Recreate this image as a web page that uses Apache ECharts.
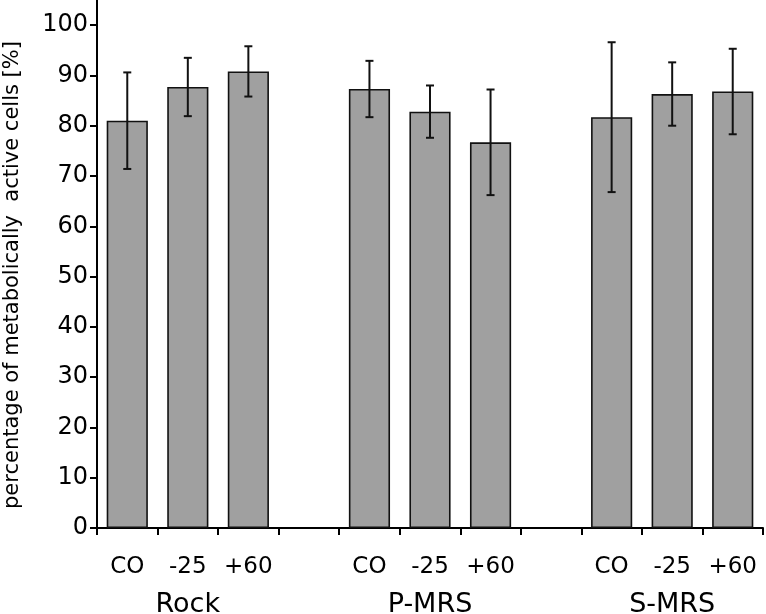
<!DOCTYPE html>
<html><head><meta charset="utf-8">
<script src="https://cdn.jsdelivr.net/npm/echarts@6/dist/echarts.min.js"></script>
<style>html,body{margin:0;padding:0;background:#fff}#c{width:766px;height:614px}</style>
</head><body><div id="c"></div>
<script>
var categories = ['CO','-25','+60','','CO','-25','+60','','CO','-25','+60'];
var groupLabels = ['','Rock','','','','P-MRS','','','','S-MRS',''];
var means = [81.0, 87.7, 90.8, null, 87.3, 82.8, 76.7, null, 81.7, 86.3, 86.8];
var errors = [9.6, 5.8, 5.0, null, 5.6, 5.2, 10.5, null, 14.9, 6.3, 8.5];
var yTicks = [0,10,20,30,40,50,60,70,80,90,100];
var yTitle = 'percentage of metabolically  active cells [%]';

var font = '"DejaVu Sans", sans-serif';
var chart = echarts.init(document.getElementById('c'), null, {renderer:'canvas'});
var errData = means.map(function(m,i){ return m==null ? null : [i, m - errors[i], m + errors[i]]; }).filter(function(d){return d;});
chart.setOption({
  animation:false,
  grid:{left:97, right:3, top:0, bottom:86, containLabel:false, outerBoundsMode:'none'},
  xAxis:[{
    type:'category', data:categories, boundaryGap:true,
    axisLine:{lineStyle:{color:'#000', width:2}},
    axisTick:{show:true, alignWithLabel:false, length:7, lineStyle:{color:'#000', width:2}},
    axisLabel:{color:'#000', fontSize:23, fontFamily:font, margin:28, interval:0}
  },{
    type:'category', data:groupLabels, position:'bottom', boundaryGap:true,
    axisLine:{show:false}, axisTick:{show:false},
    axisLabel:{color:'#000', fontSize:27, fontFamily:font, margin:63, interval:0}
  }],
  yAxis:{
    type:'value', min:0, max:105, interval:10,
    splitLine:{show:false},
    axisLine:{show:true, lineStyle:{color:'#000', width:2}},
    axisTick:{show:true, length:7, customValues:yTicks, lineStyle:{color:'#000', width:2}},
    axisLabel:{color:'#000', fontSize:24, fontFamily:font, margin:9, customValues:yTicks},
    name:yTitle, nameLocation:'middle', nameGap:74, nameRotate:90,
    nameTextStyle:{color:'#000', fontSize:21, fontFamily:font, padding:[0,22,0,0]}
  },
  series:[{
    type:'bar', data:means, barWidth:'68%', xAxisIndex:0,
    itemStyle:{color:'#a0a0a0', borderColor:'#111', borderWidth:1.6}
  },{
    type:'custom', xAxisIndex:0, data:errData, z:10,
    renderItem:function(params, api){
      var x = api.value(0);
      var lo = api.coord([x, api.value(1)]);
      var hi = api.coord([x, api.value(2)]);
      var hw = 4;
      var st = {stroke:'#111', lineWidth:2};
      return {type:'group', children:[
        {type:'line', shape:{x1:lo[0], y1:lo[1], x2:hi[0], y2:hi[1]}, style:st},
        {type:'line', shape:{x1:lo[0]-hw, y1:lo[1], x2:lo[0]+hw, y2:lo[1]}, style:st},
        {type:'line', shape:{x1:hi[0]-hw, y1:hi[1], x2:hi[0]+hw, y2:hi[1]}, style:st}
      ]};
    }
  }]
});
</script></body></html>
